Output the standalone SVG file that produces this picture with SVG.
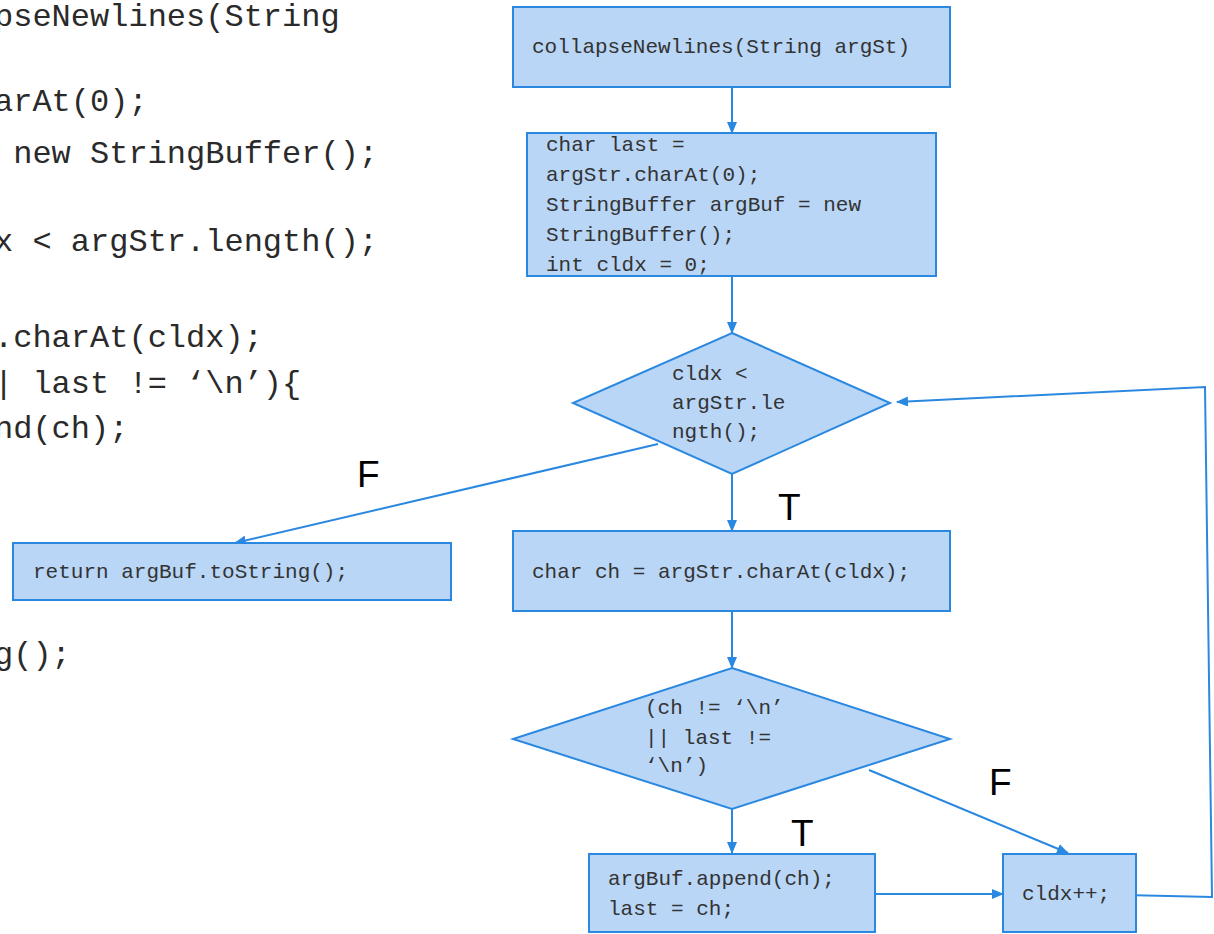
<svg xmlns="http://www.w3.org/2000/svg" width="1214" height="934" viewBox="0 0 1214 934">
<style>
.bg{font-family:"Liberation Mono","Courier New",monospace;font-size:32px;fill:#2a2a2a;}
.node{fill:#b9d6f6;stroke:#2b88e0;stroke-width:2;}
.t{font-family:"Liberation Mono","Courier New",monospace;font-size:21px;fill:#333;}
.lbl{font-family:"Liberation Sans",Arial,sans-serif;font-size:37px;fill:#000;}
.conn{fill:none;stroke:#2b88e0;stroke-width:2;}
</style>
<defs>
<marker id="ah" markerUnits="userSpaceOnUse" markerWidth="12" markerHeight="10" refX="11" refY="5" orient="auto">
<path d="M0,0 L12,5 L0,10 z" fill="#2b88e0"/>
</marker>
</defs>
<rect width="1214" height="934" fill="#fff"/>
<g id="background-code">
<text class="bg" x="-6" y="26">pseNewlines(String</text>
<text class="bg" x="-6" y="111">arAt(0);</text>
<text class="bg" x="13.2" y="163">new StringBuffer();</text>
<text class="bg" x="-6" y="251">x &lt; argStr.length();</text>
<text class="bg" x="-6" y="347">.charAt(cldx);</text>
<text class="bg" x="-6" y="393">| last != ‘\n’){</text>
<text class="bg" x="-6" y="438">nd(ch);</text>
<text class="bg" x="-6" y="664">g();</text>
</g>
<g id="connectors">
<line class="conn" x1="732" y1="87" x2="732" y2="133" marker-end="url(#ah)"/>
<line class="conn" x1="732" y1="276" x2="732" y2="333" marker-end="url(#ah)"/>
<line class="conn" x1="732" y1="474" x2="732" y2="531" marker-end="url(#ah)"/>
<line class="conn" x1="658" y1="444" x2="235" y2="543" marker-end="url(#ah)"/>
<line class="conn" x1="732" y1="611" x2="732" y2="668" marker-end="url(#ah)"/>
<line class="conn" x1="732" y1="809" x2="732" y2="853" marker-end="url(#ah)"/>
<line class="conn" x1="869" y1="770" x2="1068" y2="853" marker-end="url(#ah)"/>
<line class="conn" x1="875" y1="894" x2="1003" y2="894" marker-end="url(#ah)"/>
<polyline class="conn" points="1124,895 1212,897 1205,387 897,402" marker-end="url(#ah)"/>
</g>
<g id="labels">
<text class="lbl" x="357" y="487">F</text>
<text class="lbl" x="778" y="520">T</text>
<text class="lbl" x="989" y="795">F</text>
<text class="lbl" x="791" y="846">T</text>
</g>
<g id="node-start">
<rect class="node" x="513" y="7" width="437" height="80"/>
<text class="t" x="532" y="53">collapseNewlines(String argSt)</text>
</g>
<g id="node-init">
<rect class="node" x="527" y="133" width="409" height="143"/>
<text class="t" x="546" y="151">char last =</text>
<text class="t" x="546" y="181">argStr.charAt(0);</text>
<text class="t" x="546" y="211">StringBuffer argBuf = new</text>
<text class="t" x="546" y="241">StringBuffer();</text>
<text class="t" x="546" y="271">int cldx = 0;</text>
</g>
<g id="node-loop-cond">
<polygon class="node" points="732,333 890,403 732,474 573,403"/>
<text class="t" x="672" y="380">cldx &lt;</text>
<text class="t" x="672" y="409">argStr.le</text>
<text class="t" x="672" y="438">ngth();</text>
</g>
<g id="node-return">
<rect class="node" x="13" y="543" width="438" height="57"/>
<text class="t" x="33" y="578">return argBuf.toString();</text>
</g>
<g id="node-getch">
<rect class="node" x="513" y="531" width="437" height="80"/>
<text class="t" x="532" y="578">char ch = argStr.charAt(cldx);</text>
</g>
<g id="node-if">
<polygon class="node" points="732,668 950,739 732,809 513,739"/>
<text class="t" x="645" y="714">(ch != ‘\n’</text>
<text class="t" x="645" y="744">|| last !=</text>
<text class="t" x="645" y="772">‘\n’)</text>
</g>
<g id="node-append">
<rect class="node" x="589" y="854" width="286" height="78"/>
<text class="t" x="608" y="885">argBuf.append(ch);</text>
<text class="t" x="608" y="915">last = ch;</text>
</g>
<g id="node-inc">
<rect class="node" x="1003" y="854" width="133" height="78"/>
<text class="t" x="1022" y="900">cldx++;</text>
</g>
</svg>
